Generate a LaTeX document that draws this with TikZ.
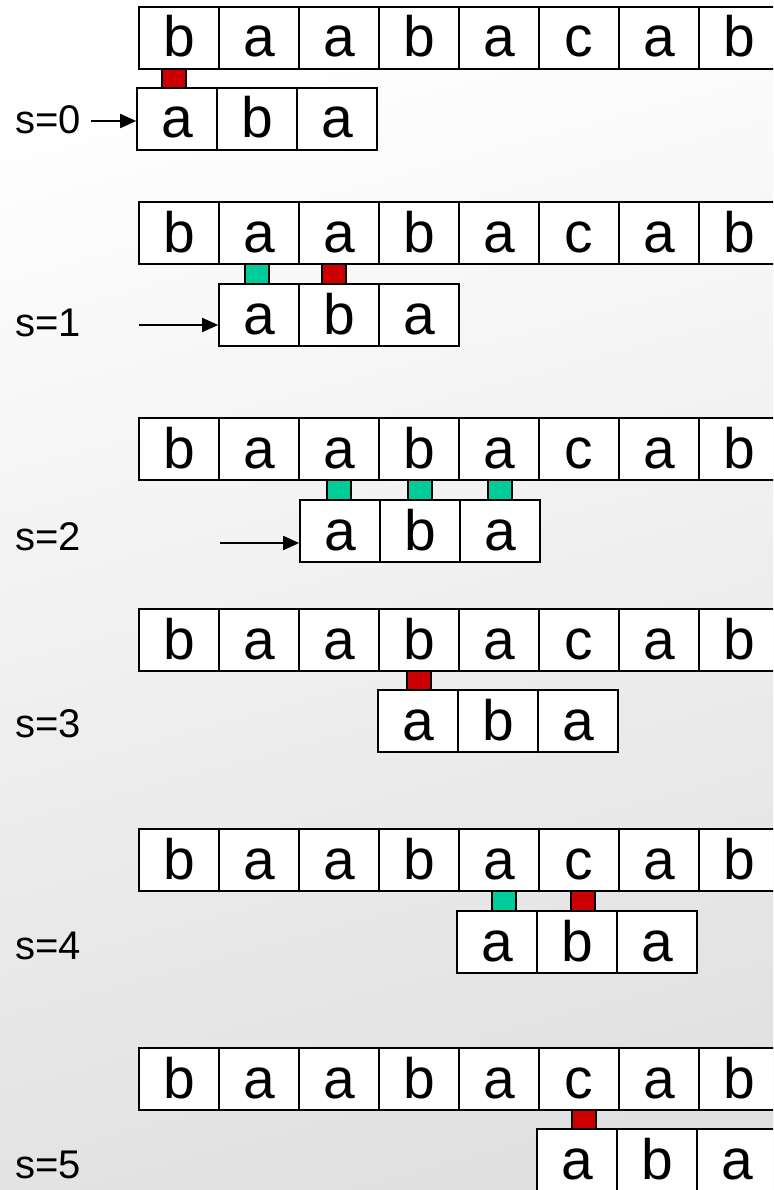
\documentclass[tikz,border=0pt]{standalone}
\usepackage{fontspec}
\setmainfont{Liberation Sans}
\usetikzlibrary{arrows.meta}
\definecolor{mred}{RGB}{204,0,0}
\definecolor{mgreen}{RGB}{0,204,153}
\tikzset{
  cell/.style={draw=black, line width=1.6pt, fill=white, minimum width=80pt, minimum height=62pt,
    inner sep=0pt, text height=38pt, text depth=0pt, font=\fontsize{57}{60}\selectfont},
  lbl/.style={anchor=base west, inner sep=0pt, font=\fontsize{40}{44}\selectfont},
  marker/.style={draw=black, line width=1.2pt, minimum width=24pt, inner sep=0pt},
  redm/.style={marker, fill=mred},
  greenm/.style={marker, fill=mgreen},
  shiftarrow/.style={line width=1.8pt, -{Triangle[length=16pt,width=14pt]}}
}
\begin{document}
\begin{tikzpicture}[x=1pt,y=-1pt]
\clip (0,0) rectangle (773,1190);
\shade[top color=white, bottom color=black!12, shading angle=15] (-20,-20) rectangle (793,1210);
% rows: index / text top / pattern top / pattern left / label baseline
\foreach \r/\T/\P/\L/\B in {0/7/88/137/134, 1/202/284/219/336, 2/418/500/300/550,
                          3/609/690/378/737, 4/829/911/457/959, 5/1048/1129/537/1178}{
  \foreach \c [count=\i from 0] in {b,a,a,b,a,c,a,b}{
    \node[cell] (t\r-\i) at ({139+40+80*\i},{\T+31}) {\c};
  }
  \foreach \c [count=\j from 1] in {a,b,a}{
    \node[cell] (p\r-\j) at ({\L+40+80*(\j-1)},{\P+31}) {\c};
  }
  \node[lbl] (s\r) at (15,\B) {s=\r};
}
% mismatch / match markers
\foreach \r/\T/\P/\x/\st [count=\k] in {0/7/88/174/redm,
   1/202/284/257/greenm, 1/202/284/334/redm,
   2/418/500/339/greenm, 2/418/500/420/greenm, 2/418/500/500/greenm,
   3/609/690/419/redm,
   4/829/911/504/greenm, 4/829/911/583/redm,
   5/1048/1129/584/redm}{
  \node[\st, minimum height={\P-\T-62}] (m\k) at (\x,{(\T+62+\P)/2}) {};
}
% shift arrows
\coordinate (a0) at (91,121);
\coordinate (a1) at (139,325);
\coordinate (a2) at (220,543);
\draw[shiftarrow] (a0) -- (a0 -| p0-1.west);
\draw[shiftarrow] (a1) -- (a1 -| p1-1.west);
\draw[shiftarrow] (a2) -- (a2 -| p2-1.west);
\end{tikzpicture}
\end{document}
